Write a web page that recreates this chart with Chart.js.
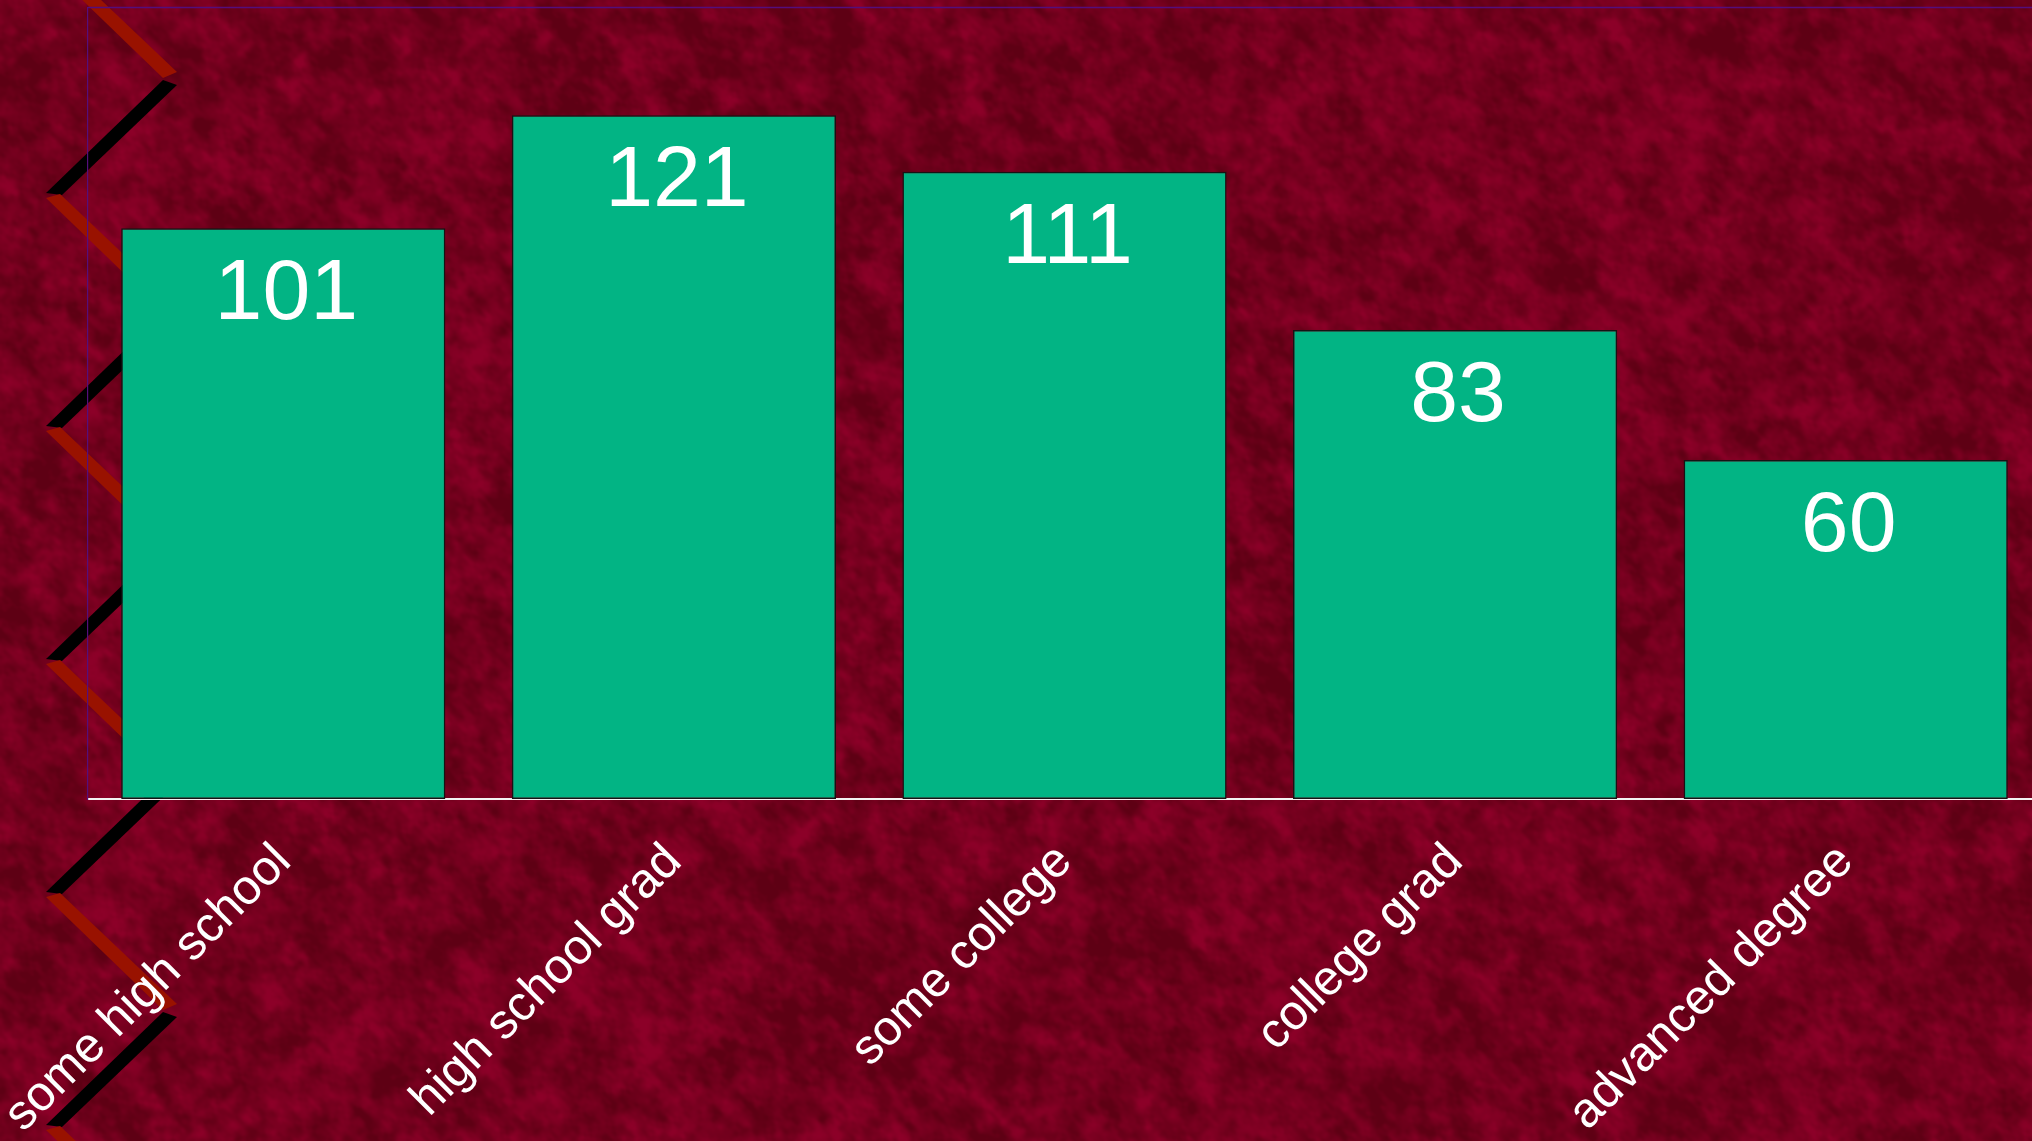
<!DOCTYPE html>
<html>
<head>
<meta charset="utf-8">
<script src="https://cdn.jsdelivr.net/npm/chart.js@4.4.1/dist/chart.umd.min.js"></script>
<style>
  html, body { margin: 0; padding: 0; overflow: hidden; background: #72001c; }
  #wrap { position: relative; width: 2041px; height: 1141px; }
  canvas { display: block; }
</style>
</head>
<body>
<div id="wrap"><canvas id="chart" width="2041" height="1141"></canvas></div>
<script>
// Education level of respondents
const categories = ['some high school', 'high school grad', 'some college', 'college grad', 'advanced degree'];
const respondents = [101, 121, 111, 83, 60];
const axisMin = 0;
const axisMax = 140;

const FONT = '"Liberation Sans", Arial, Helvetica, sans-serif';

// ---- mottled burgundy backdrop (deterministic value noise) ----
function hash(ix, iy, seed) {
  let h = (Math.imul(ix, 374761393) + Math.imul(iy, 668265263) + Math.imul(seed, 982451653)) | 0;
  h = Math.imul(h ^ (h >>> 13), 1274126177);
  h = h ^ (h >>> 16);
  return (h >>> 0) / 4294967296;
}
function valueNoise(x, y, seed) {
  const ix = Math.floor(x), iy = Math.floor(y);
  const fx = x - ix, fy = y - iy;
  const sx = fx * fx * (3 - 2 * fx), sy = fy * fy * (3 - 2 * fy);
  const a = hash(ix, iy, seed), b = hash(ix + 1, iy, seed);
  const c = hash(ix, iy + 1, seed), d = hash(ix + 1, iy + 1, seed);
  return a + (b - a) * sx + (c - a) * sy + (a - b - c + d) * sx * sy;
}
function makeBackdrop(w, h) {
  const scale = 2;
  const tw = Math.ceil(w / scale), th = Math.ceil(h / scale);
  const tile = document.createElement('canvas');
  tile.width = tw; tile.height = th;
  const tctx = tile.getContext('2d');
  const img = tctx.createImageData(tw, th);
  const octaves = [[16, 0.28, 1], [7, 0.32, 2], [3.5, 0.25, 3], [1.8, 0.15, 4]];
  const dark = [94, 0, 20], light = [140, 0, 40];
  for (let y = 0; y < th; y++) {
    for (let x = 0; x < tw; x++) {
      // slight diagonal grain
      const u = (x + y) * 0.7071, v = (y - x) * 0.7071;
      let n = 0;
      for (const [s, wgt, seed] of octaves) n += wgt * valueNoise(u / (s * 1.4), v / s, seed);
      let t = (n - 0.5) * 2.1 + 0.45;
      t = Math.max(0, Math.min(1, t));
      const i = (y * tw + x) * 4;
      img.data[i] = dark[0] + (light[0] - dark[0]) * t;
      img.data[i + 1] = dark[1] + (light[1] - dark[1]) * t;
      img.data[i + 2] = dark[2] + (light[2] - dark[2]) * t;
      img.data[i + 3] = 255;
    }
  }
  tctx.putImageData(img, 0, 0);
  const full = document.createElement('canvas');
  full.width = w; full.height = h;
  const fctx = full.getContext('2d');
  fctx.imageSmoothingEnabled = true;
  fctx.drawImage(tile, 0, 0, tw * scale, th * scale);
  return full;
}

// ---- zig-zag ribbon down the left margin ----
function drawZigzag(ctx, height) {
  const L = 46, R = 175, P = 233, half = 116.5;
  ctx.save();
  for (let yk = 194 - 2 * P; yk < height + P; yk += P) {
    // rust stripe: left apex down to right apex
    ctx.fillStyle = '#991200';
    ctx.beginPath();
    ctx.moveTo(L, yk + 4);
    ctx.lineTo(L + 14, yk);
    ctx.lineTo(R + 2, yk + half - 5.5);
    ctx.lineTo(R - 12, yk + half + 0.5);
    ctx.closePath();
    ctx.fill();
    // black stripe: right apex down to next left apex
    const yr = yk + half;
    ctx.fillStyle = '#000000';
    ctx.beginPath();
    ctx.moveTo(R - 12, yr + 2.5);
    ctx.lineTo(R + 2, yr + 7.5);
    ctx.lineTo(L + 16, yk + P + 1);
    ctx.lineTo(L, yk + P - 1);
    ctx.closePath();
    ctx.fill();
  }
  ctx.restore();
}

let backdrop = null;
const backdropPlugin = {
  id: 'backdrop',
  beforeDraw(chart) {
    const { ctx, width, height } = chart;
    if (!backdrop) backdrop = makeBackdrop(width, height);
    ctx.save();
    ctx.drawImage(backdrop, 0, 0);
    ctx.restore();
    drawZigzag(ctx, height);
  },
  afterDraw(chart) {
    const { ctx, chartArea, width } = chart;
    ctx.save();
    ctx.strokeStyle = 'rgb(84, 14, 124)';
    ctx.lineWidth = 1.5;
    ctx.beginPath();
    ctx.moveTo(chartArea.left, chartArea.top - 0.5);
    ctx.lineTo(width, chartArea.top - 0.5);
    ctx.stroke();
    ctx.restore();
  }
};

// ---- value printed inside the top of each bar ----
const valueLabelPlugin = {
  id: 'valueLabels',
  afterDatasetsDraw(chart) {
    const { ctx } = chart;
    const meta = chart.getDatasetMeta(0);
    ctx.save();
    ctx.fillStyle = '#ffffff';
    ctx.font = '86px ' + FONT;
    ctx.textAlign = 'center';
    ctx.textBaseline = 'alphabetic';
    meta.data.forEach((bar, i) => {
      ctx.fillText(String(respondents[i]), bar.x + 3, bar.y + 91);
    });
    ctx.restore();
  }
};

new Chart(document.getElementById('chart'), {
  type: 'bar',
  data: {
    labels: categories,
    datasets: [{
      data: respondents,
      backgroundColor: '#02b484',
      borderColor: '#141414',
      borderWidth: 1.5,
      borderSkipped: false,
      barPercentage: 0.83,
      categoryPercentage: 1.0
    }]
  },
  options: {
    responsive: false,
    animation: false,
    events: [],
    layout: { padding: { top: 8, left: 0, right: 0, bottom: 0 } },
    plugins: {
      legend: { display: false },
      tooltip: { enabled: false },
      title: { display: false }
    },
    scales: {
      x: {
        grid: { display: false, drawTicks: false },
        border: { display: true, color: '#f2f2f2', width: 2 },
        ticks: {
          color: '#ffffff',
          font: { family: FONT, size: 49 },
          minRotation: 45,
          maxRotation: 45,
          autoSkip: false,
          padding: 34
        },
        afterFit(scale) {
          scale.height = 342;
          scale.paddingLeft = 0;
          scale.paddingRight = 0;
        }
      },
      y: {
        min: axisMin,
        max: axisMax,
        grid: { display: false, drawTicks: false },
        border: { display: true, color: 'rgb(84, 14, 124)', width: 1.2 },
        ticks: { display: false },
        afterFit(scale) {
          scale.width = 88;
          scale.paddingTop = 0;
          scale.paddingBottom = 0;
        }
      }
    }
  },
  plugins: [backdropPlugin, valueLabelPlugin]
});
</script>
</body>
</html>
